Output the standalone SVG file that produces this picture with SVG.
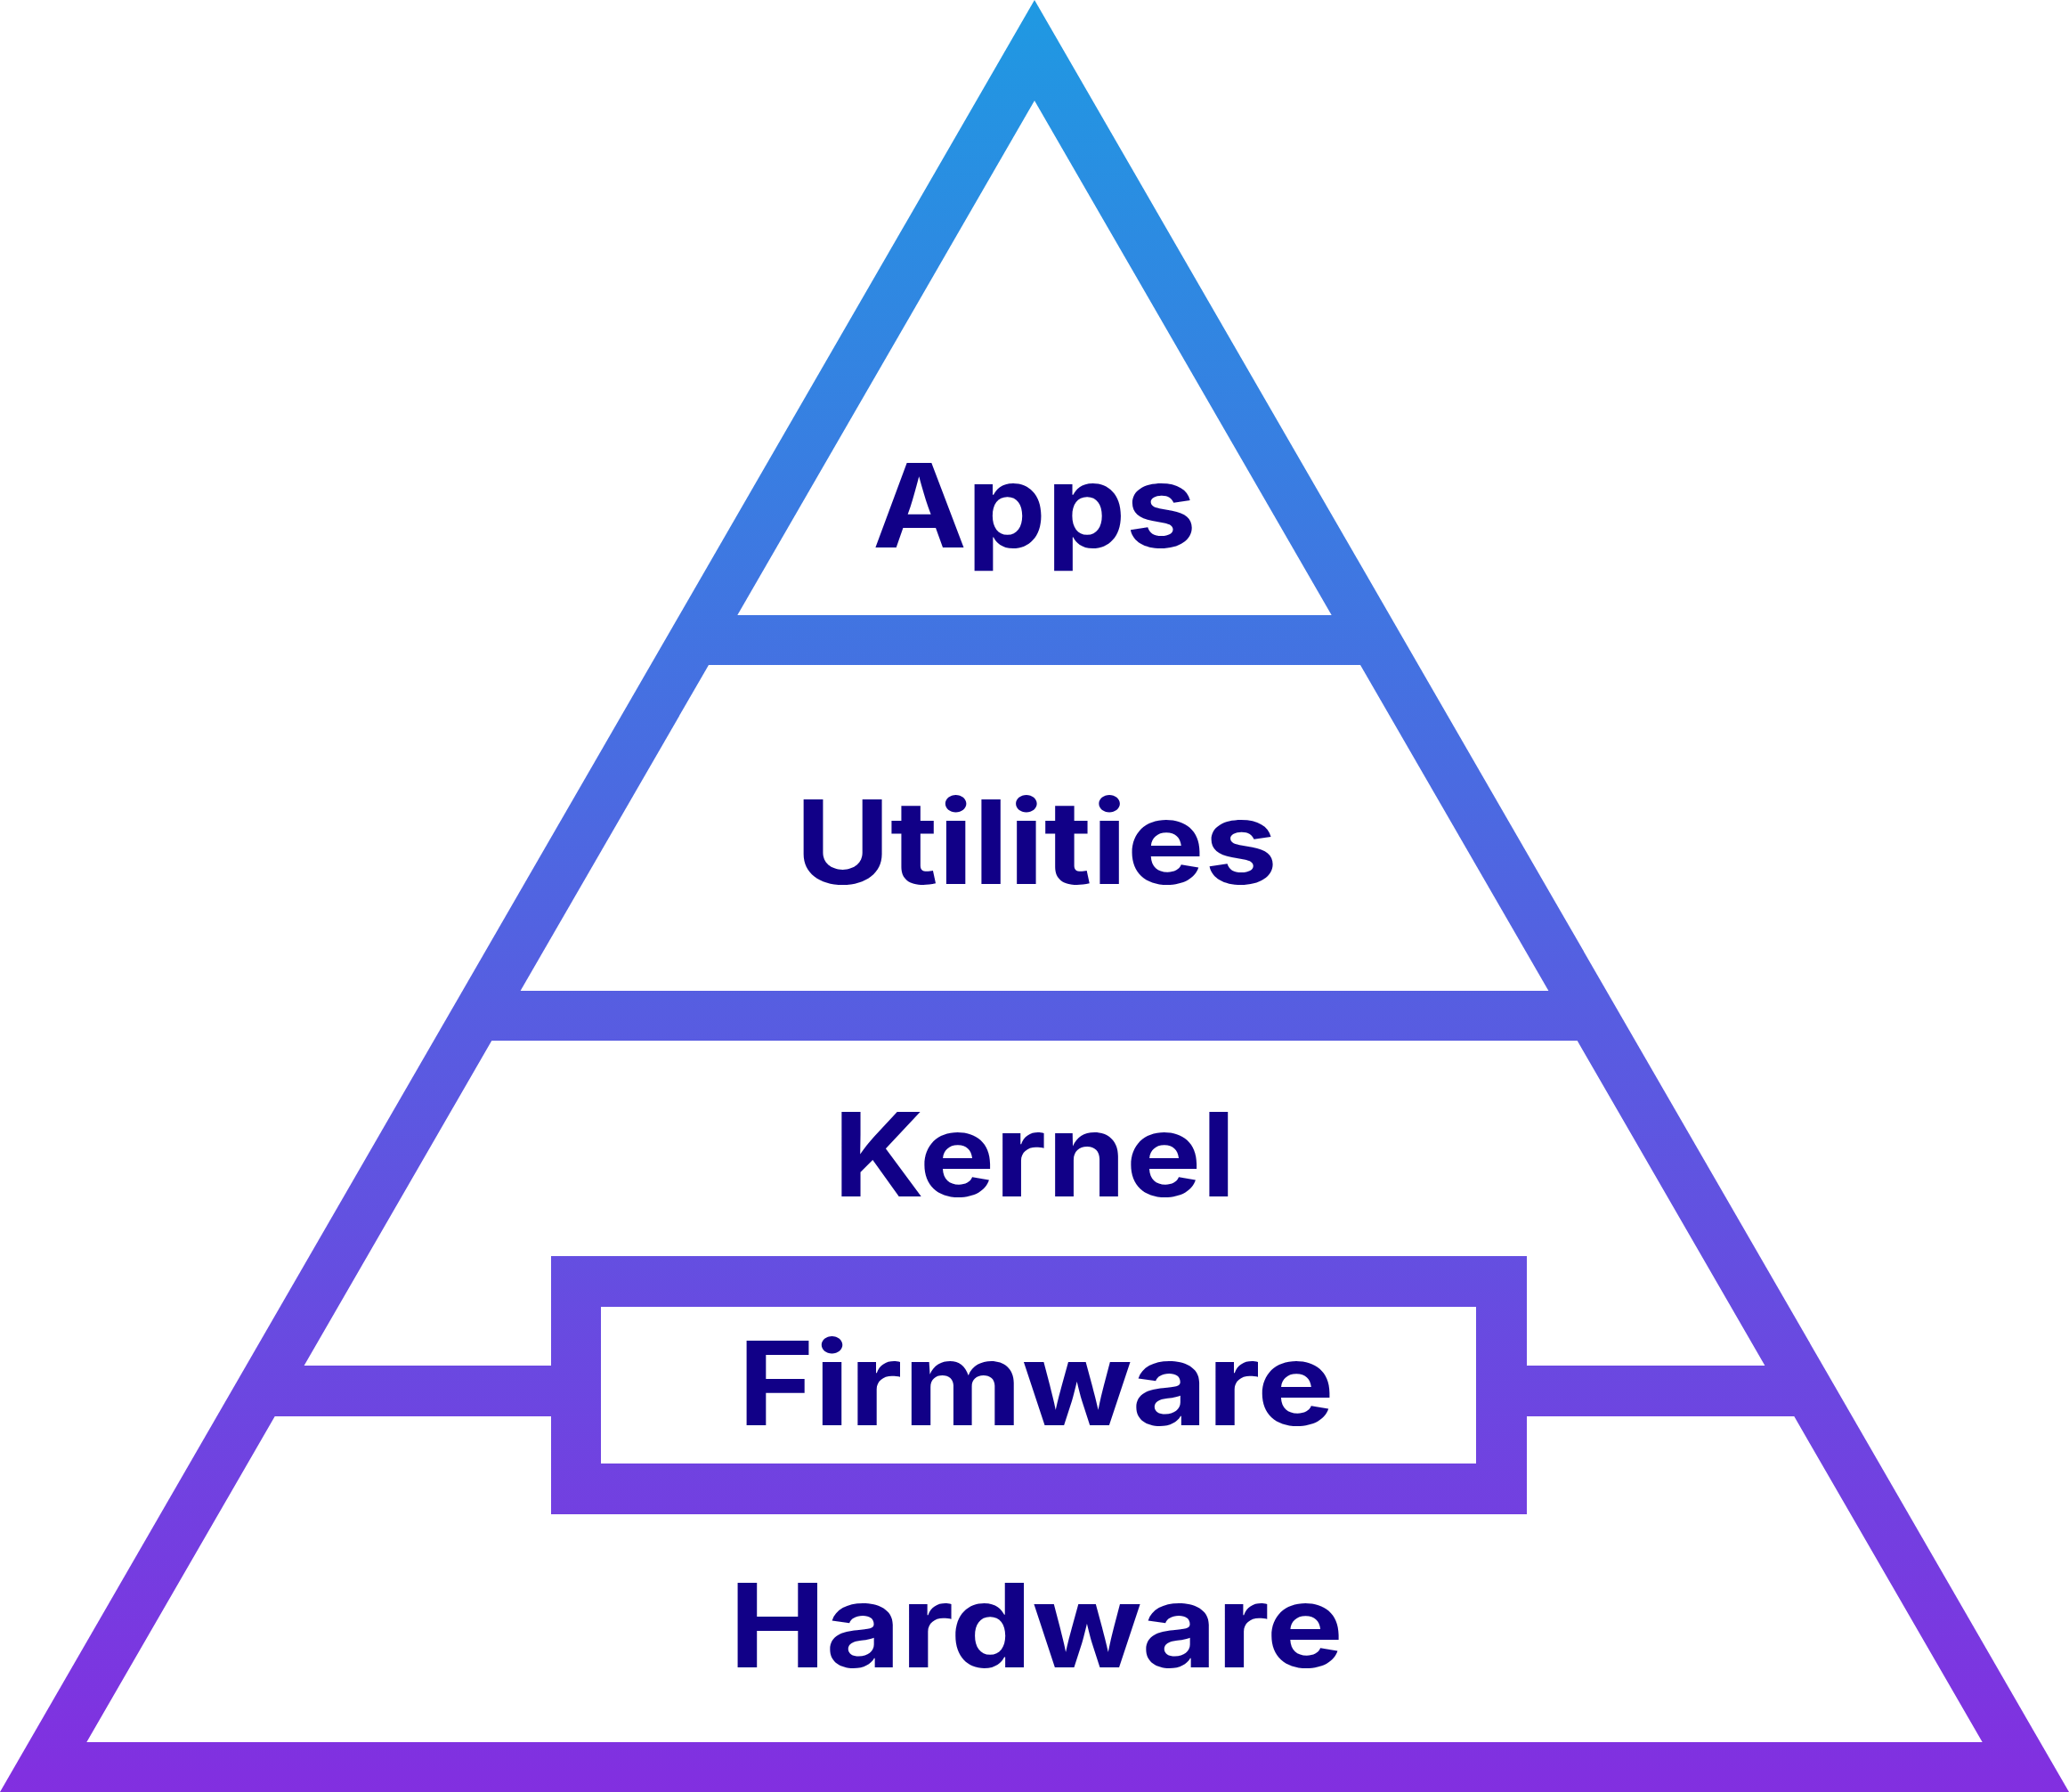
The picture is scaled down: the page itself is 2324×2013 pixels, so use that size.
<svg xmlns="http://www.w3.org/2000/svg" width="2324" height="2013" viewBox="0 0 2324 2013">
  <defs>
    <linearGradient id="grad" gradientUnits="userSpaceOnUse" x1="0" y1="0" x2="0" y2="2013">
      <stop offset="0" stop-color="#1F99E2"/>
      <stop offset="1" stop-color="#822FE0"/>
    </linearGradient>
    <style>
      .cell { fill: #FFFFFF; }
      .label { font-family: Inter, "Liberation Sans", sans-serif; font-weight: 700; font-size: 130px; fill: #110087; text-anchor: middle; }
    </style>
  </defs>
  <rect x="0" y="0" width="2324" height="2013" fill="#FFFFFF"/>
  <g id="pyramid-frame">
    <polygon points="1162,0 2324,2013 0,2013" fill="url(#grad)"/>
  </g>
  <g id="connectors"></g>
  <g id="apps">
    <polygon class="cell" points="1162,113 1495.7,691 828.3,691"/>
    <text class="label" x="1162" y="615" textLength="364" lengthAdjust="spacingAndGlyphs">Apps</text>
  </g>
  <g id="utilities">
    <polygon class="cell" points="796,747 1528,747 1739.4,1113 584.6,1113"/>
    <text class="label" x="1164" y="993" textLength="542" lengthAdjust="spacingAndGlyphs">Utilities</text>
  </g>
  <g id="kernel">
    <polygon class="cell" points="552.3,1169 1771.7,1169 1982.4,1534 1715,1534 1715,1411 619,1411 619,1534 341.6,1534"/>
    <text class="label" x="1162" y="1344" textLength="452" lengthAdjust="spacingAndGlyphs">Kernel</text>
  </g>
  <g id="firmware">
    <rect class="cell" x="675" y="1468" width="983" height="176"/>
    <text class="label" x="1164" y="1601" textLength="670" lengthAdjust="spacingAndGlyphs">Firmware</text>
  </g>
  <g id="hardware">
    <polygon class="cell" points="308.7,1591 619,1591 619,1701 1715,1701 1715,1591 2015.3,1591 2226.7,1957 97.3,1957"/>
    <text class="label" x="1164" y="1873" textLength="690" lengthAdjust="spacingAndGlyphs">Hardware</text>
  </g>
</svg>
